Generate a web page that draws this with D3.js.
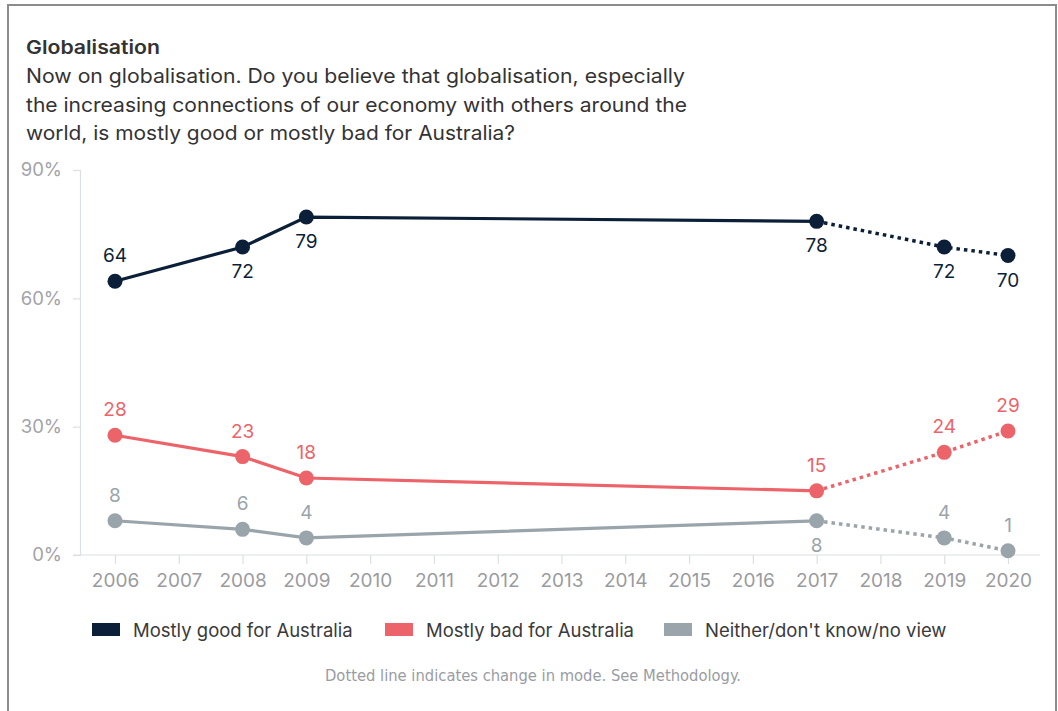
<!DOCTYPE html>
<html>
<head>
<meta charset="utf-8">
<script src="https://cdn.jsdelivr.net/npm/d3@7"></script>
<style>
  html, body { margin: 0; padding: 0; background: #fff; }
  svg { display: block; }
</style>
</head>
<body>
<svg id="chart" width="1058" height="711"></svg>
<script>
// Survey years and shares (%)
const years = [2006, 2008, 2009, 2017, 2019, 2020];
const goodValues = [64, 72, 79, 78, 72, 70];
const badValues = [28, 23, 18, 15, 24, 29];
const neitherValues = [8, 6, 4, 8, 4, 1];
// Index from which the series are drawn dotted (change in survey mode)
const modeChangeIndex = 3;

const seriesNames = ["Mostly good for Australia", "Mostly bad for Australia", "Neither/don't know/no view"];
const seriesColors = ["#0c1f38", "#ec6469", "#9aa4ab"];
const labelSides = [
  ["above", "below", "below", "below", "below", "below"],
  ["above", "above", "above", "above", "above", "above"],
  ["above", "above", "above", "below", "above", "above"]
];
const yTicks = [0, 30, 60, 90];
const xTicks = d3.range(2006, 2021);

const titleText = "Globalisation";
const subtitleLines = [
  "Now on globalisation. Do you believe that globalisation, especially",
  "the increasing connections of our economy with others around the",
  "world, is mostly good or mostly bad for Australia?"
];
const subtitleWidths = [659, 661, 489];
const footnote = "Dotted line indicates change in mode. See Methodology.";

const svg = d3.select("#chart");
const font = "Inter, 'Open Sans', sans-serif";

// Frame
svg.append("rect")
  .attr("x", 8).attr("y", 5).attr("width", 1048).attr("height", 720)
  .attr("fill", "none").attr("stroke", "#8c8c8c").attr("stroke-width", 2);

// Heading
svg.append("text")
  .attr("x", 26).attr("y", 54)
  .attr("font-family", font).attr("font-size", 18.5).attr("font-weight", 600)
  .attr("fill", "#333")
  .attr("textLength", 134).attr("lengthAdjust", "spacingAndGlyphs")
  .text(titleText);

svg.selectAll("text.sub").data(subtitleLines).join("text")
  .attr("class", "sub")
  .attr("x", 26).attr("y", (d, i) => 83 + i * 28.5)
  .attr("font-family", font).attr("font-size", 20)
  .attr("fill", "#333")
  .attr("textLength", (d, i) => subtitleWidths[i]).attr("lengthAdjust", "spacingAndGlyphs")
  .text(d => d);

// Scales
const x = d3.scaleLinear().domain([2006, 2020]).range([115, 1008]);
const y = d3.scaleLinear().domain([0, 90]).range([555, 170]);

// Y axis
const yAxis = svg.append("g")
  .attr("transform", "translate(80,0)")
  .call(d3.axisLeft(y).tickValues(yTicks).tickSize(7).tickPadding(11).tickFormat(d => d + "%"));
yAxis.select(".domain").attr("stroke", "#dcdfe3").attr("stroke-width", 1.2);
yAxis.selectAll(".tick line").attr("stroke", "#dcdfe3").attr("stroke-width", 1.2);
yAxis.selectAll(".tick text")
  .attr("font-family", font).attr("font-size", 18.5).attr("fill", "#a3a3a9");

// X axis along the 0% baseline
const xAxis = svg.append("g")
  .attr("transform", `translate(0,${y(0)})`)
  .call(d3.axisBottom(x).tickValues(xTicks).tickSize(9).tickPadding(10).tickFormat(d3.format("d")));
xAxis.select(".domain").remove();
xAxis.insert("line", ":first-child")
  .attr("x1", 73).attr("x2", 1040).attr("y1", 0).attr("y2", 0)
  .attr("stroke", "#dcdfe3").attr("stroke-width", 1.2);
xAxis.selectAll(".tick line").attr("stroke", "#dcdfe3").attr("stroke-width", 1.2);
xAxis.selectAll(".tick text")
  .attr("font-family", font).attr("font-size", 19).attr("fill", "#9b9b9f");

// Series
const allValues = [goodValues, badValues, neitherValues];
const line = d3.line().x(d => x(d.year)).y(d => y(d.value));

allValues.forEach((vals, s) => {
  const pts = years.map((yr, i) => ({ year: yr, value: vals[i] }));
  const g = svg.append("g");
  g.append("path")
    .datum(pts.slice(0, modeChangeIndex + 1))
    .attr("d", line).attr("fill", "none")
    .attr("stroke", seriesColors[s]).attr("stroke-width", 3.2);
  g.append("path")
    .datum(pts.slice(modeChangeIndex))
    .attr("d", line).attr("fill", "none")
    .attr("stroke", seriesColors[s]).attr("stroke-width", 3.5)
    .attr("stroke-dasharray", "3.5 4");
  g.selectAll("circle").data(pts).join("circle")
    .attr("cx", d => x(d.year)).attr("cy", d => y(d.value)).attr("r", 7.5)
    .attr("fill", seriesColors[s]);
  g.selectAll("text").data(pts).join("text")
    .attr("x", d => x(d.year))
    .attr("y", (d, i) => y(d.value) + (labelSides[s][i] === "above" ? -19 : 31))
    .attr("text-anchor", "middle")
    .attr("font-family", font).attr("font-size", 19)
    .attr("fill", seriesColors[s])
    .text(d => d.value);
});

// Legend
const legendX = [92, 385, 664];
const legend = svg.selectAll("g.legend").data(seriesNames).join("g")
  .attr("class", "legend")
  .attr("transform", (d, i) => `translate(${legendX[i]},623)`);
legend.append("rect")
  .attr("width", 28).attr("height", 13)
  .attr("fill", (d, i) => seriesColors[i]);
legend.append("text")
  .attr("x", 41).attr("y", 13.5)
  .attr("font-family", font).attr("font-size", 18.5)
  .attr("fill", "#3a3a3a").text(d => d);

// Footnote
svg.append("text")
  .attr("x", 533).attr("y", 681)
  .attr("text-anchor", "middle")
  .attr("font-family", "'Liberation Sans Narrow', 'DejaVu Sans Condensed', sans-serif")
  .attr("font-size", 15.5).attr("fill", "#9a9ca3")
  .attr("textLength", 416).attr("lengthAdjust", "spacingAndGlyphs")
  .text(footnote);
</script>
</body>
</html>
